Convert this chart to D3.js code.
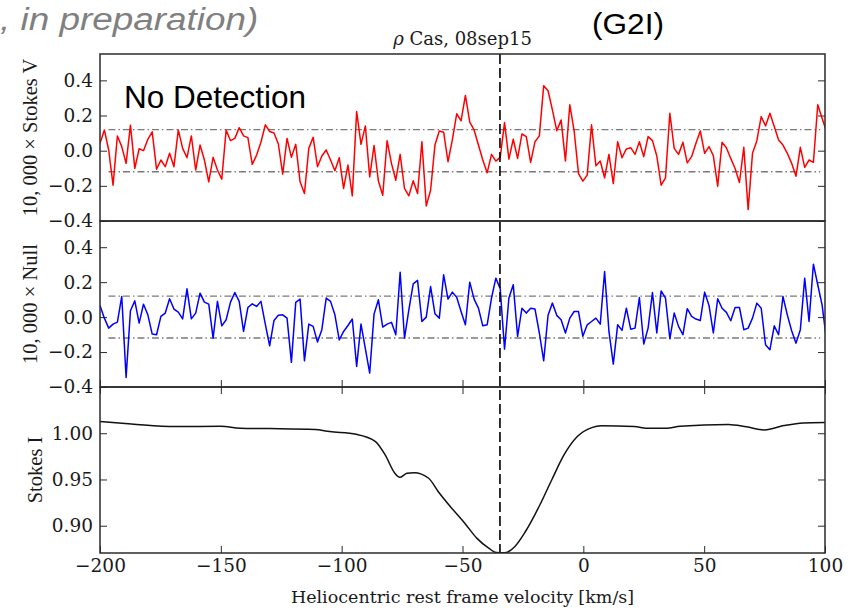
<!DOCTYPE html>
<html><head><meta charset="utf-8">
<script src="https://cdn.jsdelivr.net/npm/d3@7/dist/d3.min.js"></script>
<style>body{margin:0;background:#fff}</style>
</head><body><svg id="chart" width="856" height="610"></svg>
<script>
// ---- data ----
const velocity = [
-200.0,-198.2,-196.4,-194.6,-192.8,-191.0,-189.2,-187.4,-185.6,-183.8,
-182.0,-180.2,-178.4,-176.6,-174.8,-173.0,-171.2,-169.4,-167.6,-165.8,
-164.0,-162.2,-160.4,-158.6,-156.8,-155.0,-153.2,-151.4,-149.6,-147.8,
-146.0,-144.2,-142.4,-140.6,-138.8,-137.0,-135.2,-133.4,-131.6,-129.8,
-128.0,-126.2,-124.4,-122.6,-120.8,-119.0,-117.2,-115.4,-113.6,-111.8,
-110.0,-108.2,-106.4,-104.6,-102.8,-101.0,-99.2,-97.4,-95.6,-93.8,
-92.0,-90.2,-88.4,-86.6,-84.8,-83.0,-81.2,-79.4,-77.6,-75.8,
-74.0,-72.2,-70.4,-68.6,-66.8,-65.0,-63.2,-61.4,-59.6,-57.8,
-56.0,-54.2,-52.4,-50.6,-48.8,-47.0,-45.2,-43.4,-41.6,-39.8,
-38.0,-36.2,-34.4,-32.6,-30.8,-29.0,-27.2,-25.4,-23.6,-21.8,
-20.0,-18.2,-16.4,-14.6,-12.8,-11.0,-9.2,-7.4,-5.6,-3.8,
-2.0,-0.2,1.6,3.4,5.2,7.0,8.8,10.6,12.4,14.2,
16.0,17.8,19.6,21.4,23.2,25.0,26.8,28.6,30.4,32.2,
34.0,35.8,37.6,39.4,41.2,43.0,44.8,46.6,48.4,50.2,
52.0,53.8,55.6,57.4,59.2,61.0,62.8,64.6,66.4,68.2,
70.0,71.8,73.6,75.4,77.2,79.0,80.8,82.6,84.4,86.2,
88.0,89.8,91.6,93.4,95.2,97.0,98.8,100.6];

const stokesV = [
0.042,0.118,0.004,-0.196,0.084,0.023,-0.072,0.145,-0.101,0.011,
0.000,0.065,0.107,-0.105,-0.053,-0.091,-0.015,-0.091,0.118,0.013,
-0.040,0.084,-0.110,0.032,-0.053,-0.177,-0.038,-0.110,-0.162,0.118,
0.057,0.070,0.131,0.084,0.074,-0.078,-0.025,0.048,0.147,0.109,
0.101,0.038,-0.133,0.070,-0.038,0.036,-0.177,-0.244,0.013,0.076,
-0.091,-0.030,0.004,-0.053,-0.114,-0.040,-0.215,
-0.082,-0.257,0.223,0.036,0.141,-0.149,0.029,-0.173,-0.253,0.057,
-0.072,-0.168,-0.021,-0.215,-0.257,-0.171,-0.244,0.051,-0.314,-0.225,
0.032,0.112,0.105,-0.063,0.061,0.210,0.170,0.314,0.162,0.118,
0.032,-0.053,-0.126,-0.021,-0.059,-0.038,0.160,-0.048,0.065,-0.044,
0.095,0.080,-0.067,0.051,0.084,0.370,0.341,0.232,0.114,0.175,
-0.059,0.261,0.112,-0.130,-0.173,-0.139,
0.147,-0.086,-0.059,-0.154,-0.021,-0.187,0.051,-0.040,0.010,0.017,
-0.021,0.051,-0.034,0.080,0.057,-0.030,-0.196,-0.154,0.213,0.013,
-0.021,0.048,-0.069,-0.034,0.042,0.112,-0.015,0.023,-0.029,-0.202,
0.048,0.017,-0.044,-0.101,-0.181,0.019,-0.335,-0.015,0.057,0.194,
0.141,0.213,0.137,0.061,0.032,-0.015,-0.072,-0.145,0.019,-0.095,
-0.053,-0.067,0.261,0.185,0.109];

const nullN = [
0.067,-0.006,-0.063,-0.040,-0.029,0.118,-0.345,0.036,0.093,-0.034,
0.074,0.013,-0.097,-0.101,0.004,0.023,0.105,0.046,0.029,-0.010,
0.162,-0.010,0.023,0.137,0.086,0.074,-0.120,0.090,-0.050,-0.015,
0.086,0.141,0.090,-0.082,0.055,0.076,0.061,0.090,-0.040,-0.164,
-0.019,0.010,0.013,-0.006,-0.259,0.084,0.103,-0.250,-0.040,-0.053,
-0.143,-0.072,0.109,0.090,0.013,-0.131,-0.082,
-0.048,-0.011,-0.282,-0.040,-0.181,-0.320,0.017,0.099,-0.057,-0.040,
-0.030,-0.101,0.257,-0.120,0.042,0.190,0.210,-0.025,0.000,0.175,
0.019,-0.006,0.242,0.103,0.143,0.114,0.032,-0.044,0.200,0.103,
0.051,-0.050,-0.044,0.109,0.223,0.162,-0.183,0.109,0.185,-0.110,
0.051,0.023,0.051,0.046,-0.091,-0.250,0.010,0.080,0.010,-0.015,
-0.091,-0.006,0.032,0.032,-0.110,-0.044,
-0.025,-0.006,-0.040,0.261,-0.082,-0.269,-0.044,-0.076,0.051,-0.069,
-0.063,0.112,-0.154,-0.063,0.141,-0.091,0.150,0.109,-0.124,0.023,
-0.053,-0.101,0.048,0.004,-0.011,-0.019,0.143,0.067,-0.091,0.105,
0.051,0.027,-0.021,0.055,0.055,-0.072,-0.063,-0.006,0.080,0.051,
-0.158,-0.187,-0.050,-0.101,0.118,0.013,-0.078,-0.149,-0.072,0.223,
-0.025,0.303,0.185,0.070,-0.130];

const iVelocity = [-200,-187,-169,-150,-142,-130,-111,-105,-94,-86,-82,-78,-76,-73,-70,-64,-60,-55,-49,-44,-39,-36,-32.5,-28.5,-24,-18,-13,-8,-2.5,3.5,7.5,21,27,34.5,40,60,67.5,75,83,91,100];
const stokesI = [1.0126,1.0101,1.0072,1.0076,1.0054,1.0050,1.0040,1.0018,0.9989,0.9910,0.9765,0.9567,0.9523,0.9567,0.9574,0.9513,0.9368,0.9206,0.9025,0.8863,0.8754,0.8710,0.8707,0.8770,0.8935,0.9224,0.9500,0.9765,0.9964,1.0061,1.0080,1.0072,1.0054,1.0054,1.0076,1.0094,1.0069,1.0036,1.0083,1.0112,1.0116];

const xTicks = [-200,-150,-100,-50,0,50,100];
const pTicks = [-0.4,-0.2,0.0,0.2,0.4];
const iTicks = [0.90,0.95,1.00];
const detectionLimits = [-0.12, 0.12];
const limitSpan = [-196.5, 98];
const lineVelocity = -34.5;

// ---- layout ----
const svg = d3.select("#chart");
svg.append("rect").attr("width",856).attr("height",610).attr("fill","#fff");
const L = 100, R = 825;
const tops = [54, 221, 387], bots = [221, 387, 553];
const serif = "DejaVu Serif";
const labelSerif = "Liberation Serif";
const frameColor = "#2b2b2b";

const x = d3.scaleLinear().domain([-200, 100]).range([L, R]);
const yV = d3.scaleLinear().domain([-0.4, 0.55]).range([bots[0], tops[0]]);
const yN = d3.scaleLinear().domain([-0.4, 0.55]).range([bots[1], tops[1]]);
const yI = d3.scaleLinear().domain([0.8705, 1.05]).range([bots[2], tops[2]]);

const defs = svg.append("defs");
[0,1,2].forEach(i => {
  defs.append("clipPath").attr("id","clip"+i).append("rect")
    .attr("x",L).attr("y",tops[i]).attr("width",R-L).attr("height",bots[i]-tops[i]);
});

function styleAxis(g, size){
  g.attr("font-family", serif).attr("font-size", size);
  g.select(".domain").remove();
  g.selectAll(".tick line").attr("stroke", frameColor).attr("stroke-width",1);
  g.selectAll(".tick text").attr("fill","#1a1a1a");
}
const fmt1 = d3.format(".1f"), fmt2 = d3.format(".2f"), fmtX = d3.format("d");

function yAxes(y, ticks, fmt){
  svg.append("g").attr("transform",`translate(${L},0)`)
    .call(d3.axisLeft(y).tickValues(ticks).tickSizeInner(-7).tickSizeOuter(0).tickPadding(7).tickFormat(fmt))
    .call(g => styleAxis(g, 18.5));
  svg.append("g").attr("transform",`translate(${R},0)`)
    .call(d3.axisRight(y).tickValues(ticks).tickSizeInner(-7).tickSizeOuter(0).tickFormat(""))
    .call(g => styleAxis(g, 18.5));
}
yAxes(yV, pTicks, fmt1);
yAxes(yN, pTicks, fmt1);
yAxes(yI, iTicks, fmt2);

// x ticks
svg.append("g").attr("transform",`translate(0,${bots[1]})`)
  .call(d3.axisTop(x).tickValues(xTicks).tickSizeInner(7).tickSizeOuter(0).tickFormat(""))
  .call(g => styleAxis(g, 18.5));
svg.append("g").attr("transform",`translate(0,${tops[2]})`)
  .call(d3.axisBottom(x).tickValues(xTicks).tickSizeInner(7).tickSizeOuter(0).tickFormat(""))
  .call(g => styleAxis(g, 18.5));
svg.append("g").attr("transform",`translate(0,${bots[2]})`)
  .call(d3.axisBottom(x).tickValues(xTicks).tickSizeInner(-7).tickSizeOuter(0).tickPadding(6).tickFormat(fmtX))
  .call(g => styleAxis(g, 18.5));

// detection limit lines
[[yV,0],[yN,1]].forEach(([y,i]) => {
  detectionLimits.forEach(v => {
    svg.append("line").attr("x1",x(limitSpan[0])).attr("x2",x(limitSpan[1]))
      .attr("y1",y(v)).attr("y2",y(v))
      .attr("stroke","#7a7a7a").attr("stroke-width",1.4)
      .attr("stroke-dasharray","7,3,1.5,3");
  });
});

// series
const pts = (vals) => velocity.map((v,i) => [v, vals[i]]);
svg.append("path").datum(pts(stokesV)).attr("clip-path","url(#clip0)")
  .attr("fill","none").attr("stroke","#ff0000").attr("stroke-width",1.5).attr("stroke-linejoin","round")
  .attr("d", d3.line().x(d=>x(d[0])).y(d=>yV(d[1])));
svg.append("path").datum(pts(nullN)).attr("clip-path","url(#clip1)")
  .attr("fill","none").attr("stroke","#0000ff").attr("stroke-width",1.5).attr("stroke-linejoin","round")
  .attr("d", d3.line().x(d=>x(d[0])).y(d=>yN(d[1])));
svg.append("path").datum(iVelocity.map((v,i)=>[v, stokesI[i]])).attr("clip-path","url(#clip2)")
  .attr("fill","none").attr("stroke","#111").attr("stroke-width",1.5)
  .attr("d", d3.line().curve(d3.curveMonotoneX).x(d=>x(d[0])).y(d=>yI(d[1])));

// vertical dashed line at line centre
svg.append("line").attr("x1",x(lineVelocity)).attr("x2",x(lineVelocity))
  .attr("y1",tops[0]).attr("y2",bots[2])
  .attr("stroke","#000").attr("stroke-width",1.6).attr("stroke-dasharray","10,4");

// frames
[0,1,2].forEach(i => {
  svg.append("rect").attr("x",L).attr("y",tops[i]).attr("width",R-L).attr("height",bots[i]-tops[i])
    .attr("fill","none").attr("stroke",frameColor).attr("stroke-width",1.5);
});

// labels
function vlabel(txt, cx, cy){
  svg.append("text").attr("transform",`translate(${cx},${cy}) rotate(-90)`)
    .attr("text-anchor","middle").attr("font-family",labelSerif).attr("font-size",20.5)
    .attr("fill","#1a1a1a").text(txt);
}
vlabel("10, 000 × Stokes V", 36.5, (tops[0]+bots[0])/2);
vlabel("10, 000 × Null", 36.5, (tops[1]+bots[1])/2);
vlabel("Stokes I", 41.5, (tops[2]+bots[2])/2);

svg.append("text").attr("x",(L+R)/2).attr("y",603).attr("text-anchor","middle")
  .attr("font-family",serif).attr("font-size",17.5).attr("fill","#1a1a1a")
  .text("Heliocentric rest frame velocity [km/s]");

const title = svg.append("text").attr("x",(L+R)/2).attr("y",45).attr("text-anchor","middle")
  .attr("font-family",serif).attr("font-size",18).attr("fill","#1a1a1a");
title.append("tspan").attr("font-style","italic").text("ρ");
title.append("tspan").text(" Cas, 08sep15");

svg.append("text").attr("x",124).attr("y",108).attr("font-family","Liberation Sans, Arial")
  .attr("font-size",31.5).attr("fill","#000").text("No Detection");

svg.append("text").attr("transform","translate(592,34) scale(1.09,1)")
  .attr("font-family","Liberation Sans, Arial").attr("font-size",29).attr("fill","#000").text("(G2I)");

svg.append("text").attr("transform","translate(0,30) scale(1.19,1)")
  .attr("font-family","Liberation Sans, Arial").attr("font-style","italic")
  .attr("font-size",31).attr("fill","#808080").text(", in preparation)");
</script></body></html>
